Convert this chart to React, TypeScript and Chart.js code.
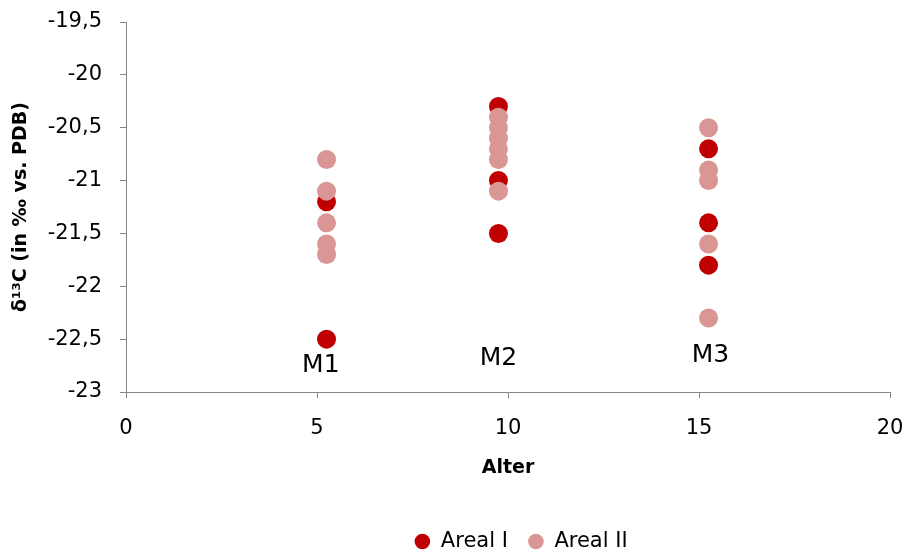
import React, { useEffect, useRef } from 'react';
import { Chart, registerables } from 'chart.js';

Chart.register(...registerables);

const seriesNames = ['Areal I', 'Areal II'];
const seriesColors = ['#C00000', '#D99694'];

const areal1X = [5.25, 5.25, 9.75, 9.75, 9.75, 15.25, 15.25, 15.25];
const areal1Y = [-21.2, -22.5, -20.3, -21.0, -21.5, -20.7, -21.4, -21.8];

const areal2X = [5.25, 5.25, 5.25, 5.25, 5.25, 9.75, 9.75, 9.75, 9.75, 9.75, 9.75, 15.25, 15.25, 15.25, 15.25, 15.25];
const areal2Y = [-20.8, -21.1, -21.4, -21.6, -21.7, -20.4, -20.5, -20.6, -20.7, -20.8, -21.1, -20.5, -20.9, -21.0, -21.6, -22.3];

const groupLabels = ['M1', 'M2', 'M3'];
const groupLabelX = [5.1, 9.75, 15.3];
const groupLabelY = [-22.745, -22.68, -22.65];

const xMin = 0;
const xMax = 20;
const xStep = 5;
const yMin = -23;
const yMax = -19.5;
const yStep = 0.5;

const xTitle = 'Alter';
const yTitle = 'δ¹³C (in ‰ vs. PDB)';

const FONT = '"DejaVu Sans", sans-serif';

function toPoints(xs: number[], ys: number[]) {
  return xs.map((x, i) => ({ x, y: ys[i] }));
}

export default function App() {
  const ref = useRef<HTMLCanvasElement>(null);

  useEffect(() => {
    if (!ref.current) return;
    const labelPlugin = {
      id: 'groupLabels',
      afterDatasetsDraw(chart: any) {
        const { ctx, scales } = chart;
        const xs = scales.x;
        const ys = scales.y;
        ctx.save();
        ctx.font = `25px ${FONT}`;
        ctx.fillStyle = '#000';
        ctx.textAlign = 'center';
        ctx.textBaseline = 'middle';
        groupLabels.forEach((t, i) => {
          ctx.fillText(t, xs.getPixelForValue(groupLabelX[i]), ys.getPixelForValue(groupLabelY[i]));
        });
        ctx.restore();
      },
    };
    const legendShift = {
      id: 'legendShift',
      afterLayout(chart: any) {
        if (chart.legend) {
          chart.legend.left += 76;
          chart.legend.right += 76;
        }
      },
    };

    const chart = new Chart(ref.current, {
      type: 'scatter',
      data: {
        datasets: [
          {
            label: seriesNames[0],
            data: toPoints(areal1X, areal1Y),
            backgroundColor: seriesColors[0],
            borderColor: seriesColors[0],
            borderWidth: 0,
            pointRadius: 9.5,
            pointHoverRadius: 9.5,
            pointStyle: 'circle',
            order: 1,
          },
          {
            label: seriesNames[1],
            data: toPoints(areal2X, areal2Y),
            backgroundColor: seriesColors[1],
            borderColor: seriesColors[1],
            borderWidth: 0,
            pointRadius: 9.5,
            pointHoverRadius: 9.5,
            pointStyle: 'circle',
            order: 0,
          },
        ],
      },
      options: {
        responsive: false,
        animation: false,
        layout: { padding: { left: 0, right: 17, top: 22, bottom: -10 } },
        plugins: {
          tooltip: { enabled: false },
          legend: {
            display: true,
            position: 'bottom',
            labels: {
              usePointStyle: true,
              boxHeight: 11,
              boxWidth: 16,
              padding: 20,
              color: '#000',
              font: { family: FONT, size: 21 },
              sort: (a: any, b: any) => a.datasetIndex - b.datasetIndex,
            },
          },
        },
        scales: {
          x: {
            type: 'linear',
            min: xMin,
            max: xMax,
            ticks: {
              stepSize: xStep,
              padding: 18,
              color: '#000',
              font: { family: FONT, size: 21 },
            },
            grid: { drawOnChartArea: false, drawTicks: true, tickLength: 6, color: '#868686' },
            border: { color: '#868686' },
            title: {
              display: true,
              text: xTitle,
              color: '#000',
              font: { family: FONT, size: 19, weight: 'bold' },
              padding: { top: 0, bottom: 32 },
            },
            afterFit(scale: any) {
              scale.height = 119;
              scale.paddingLeft = 0;
              scale.paddingRight = 0;
            },
          },
          y: {
            type: 'linear',
            min: yMin,
            max: yMax,
            ticks: {
              stepSize: yStep,
              padding: 18,
              color: '#000',
              font: { family: FONT, size: 21 },
              callback: (v: any) => String(Math.round(Number(v) * 10) / 10).replace('.', ','),
            },
            grid: { drawOnChartArea: false, drawTicks: true, tickLength: 6, color: '#868686' },
            border: { color: '#868686' },
            title: {
              display: true,
              text: yTitle,
              color: '#000',
              font: { family: FONT, size: 19, weight: 'bold' },
              padding: { top: 10, bottom: 0 },
            },
            afterFit(scale: any) {
              scale.width = 126;
              scale.paddingTop = 0;
              scale.paddingBottom = 0;
            },
          },
        },
      },
      plugins: [labelPlugin, legendShift],
    } as any);

    return () => chart.destroy();
  }, []);

  return (
    <div style={{ position: 'fixed', left: 0, top: 0, width: 907, height: 552, background: '#fff' }}>
      <canvas ref={ref} width={907} height={552} style={{ display: 'block' }} />
    </div>
  );
}
